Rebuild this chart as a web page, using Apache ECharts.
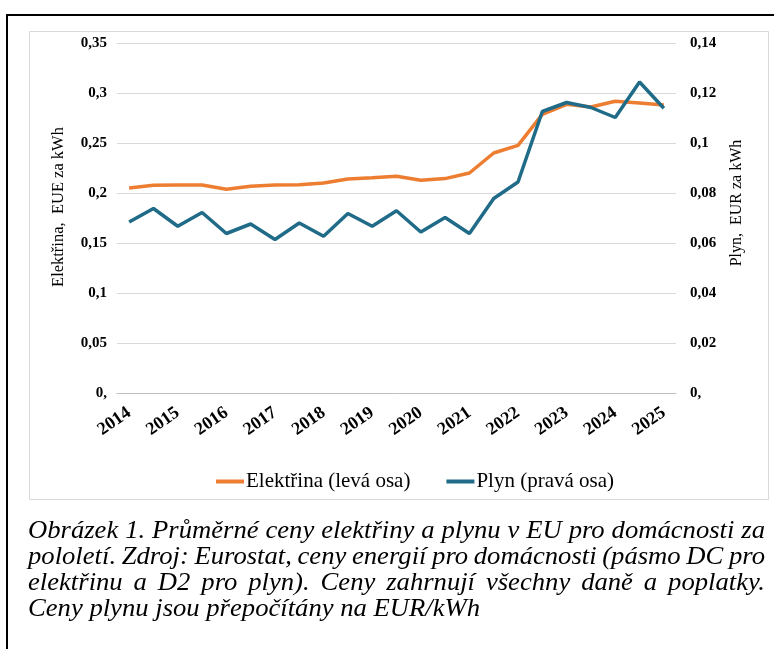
<!DOCTYPE html>
<html>
<head>
<meta charset="utf-8">
<script src="https://cdn.jsdelivr.net/npm/echarts@6/dist/echarts.min.js"></script>
<style>
  html, body { margin: 0; padding: 0; background: #fff; }
  #main { width: 774px; height: 649px; }
</style>
</head>
<body>
<div id="main"></div>
<script>
// pololetí 2014 S1 ... 2025 S1
var periods = ['2014-S1', '2014-S2', '2015-S1', '2015-S2', '2016-S1', '2016-S2', '2017-S1', '2017-S2',
    '2018-S1', '2018-S2', '2019-S1', '2019-S2', '2020-S1', '2020-S2', '2021-S1', '2021-S2',
    '2022-S1', '2022-S2', '2023-S1', '2023-S2', '2024-S1', '2024-S2', '2025-S1'];
// elektřina, EUR/kWh (levá osa)
var elektrina = [0.205, 0.2077, 0.208, 0.208, 0.2037, 0.2067, 0.208, 0.2083, 0.210, 0.214, 0.2153, 0.2167,
    0.2127, 0.2144, 0.220, 0.240, 0.2477, 0.2787, 0.2887, 0.286, 0.2917, 0.290, 0.288];
// plyn, EUR/kWh (pravá osa)
var plyn = [0.0684, 0.0738, 0.0667, 0.0722, 0.0638, 0.0676, 0.0614, 0.068, 0.0627, 0.0718, 0.0667, 0.0729,
    0.0644, 0.0702, 0.0638, 0.0778, 0.0844, 0.1126, 0.1162, 0.1142, 0.1102, 0.1244, 0.1139];

var captionLines = [
    'Obrázek 1. Průměrné ceny elektřiny a plynu v EU pro domácnosti za',
    'pololetí. Zdroj: Eurostat, ceny energií pro domácnosti (pásmo DC pro',
    'elektřinu a D2 pro plyn). Ceny zahrnují všechny daně a poplatky.',
    'Ceny plynu jsou přepočítány na EUR/kWh'
];

var serif = '"Liberation Serif", "Times New Roman", serif';
var myChart = echarts.init(document.getElementById('main'));

function fmtNum(v) {
    if (v === 0) return '0,';
    return String(+v.toFixed(2)).replace('.', ',');
}

// popisek pod grafem, zarovnaný do bloku
var capFont = 'italic 25px ' + serif;
var ctx = document.createElement('canvas').getContext('2d');
ctx.font = capFont;
var capLeft = 28, capRight = 765;
var sx = 452 / ctx.measureText(captionLines[3]).width;
var graphics = [];
captionLines.forEach(function (line, li) {
    var y = 531 + li * 26.3;
    var words = line.split(' ');
    var last = li === captionLines.length - 1;
    var widths = words.map(function (w) { return ctx.measureText(w).width * sx; });
    var total = widths.reduce(function (a, b) { return a + b; }, 0);
    var gap = last ? ctx.measureText(' ').width * sx : (capRight - capLeft - total) / (words.length - 1);
    var x = capLeft;
    words.forEach(function (w, i) {
        graphics.push({
            type: 'text', x: x, y: y, scaleX: sx,
            style: { text: w, font: capFont, fill: '#000', align: 'left', verticalAlign: 'middle' }
        });
        x += widths[i] + gap;
    });
});

graphics.push({
    type: 'polyline',
    shape: { points: [[774, 15], [7, 15], [7, 649]] },
    style: { stroke: '#000', lineWidth: 2, fill: null }
});
graphics.push({
    type: 'rect',
    shape: { x: 29.5, y: 31.5, width: 739, height: 468 },
    style: { stroke: '#d9d9d9', lineWidth: 1, fill: null }
});
graphics.push({
    type: 'text', x: 59, y: 207, rotation: Math.PI / 2,
    style: { text: 'Elektřina,  EUE za kWh', font: '16.5px ' + serif, fill: '#000', align: 'center', verticalAlign: 'middle' }
});
graphics.push({
    type: 'text', x: 737, y: 203, rotation: Math.PI / 2,
    style: { text: 'Plyn,  EUR za kWh', font: '16px ' + serif, fill: '#000', align: 'center', verticalAlign: 'middle' }
});

var option = {
    backgroundColor: '#fff',
    animation: false,
    grid: { left: 117, right: 98, top: 43, height: 350 },
    legend: {
        left: 216, top: 471, padding: 0,
        icon: 'rect', itemWidth: 28, itemHeight: 4, itemGap: 36,
        textStyle: { fontFamily: serif, fontSize: 21, color: '#000', padding: [0, 0, 0, -3] },
        data: ['Elektřina (levá osa)', 'Plyn (pravá osa)']
    },
    xAxis: {
        type: 'category',
        data: periods,
        boundaryGap: true,
        axisLine: { lineStyle: { color: '#bfbfbf', width: 1 } },
        axisTick: { interval: 0, length: 5, lineStyle: { color: '#bfbfbf' } },
        axisLabel: {
            interval: 1, rotate: 35, margin: 18,
            fontFamily: serif, fontWeight: 'bold', fontSize: 18, color: '#000',
            formatter: function (v) { return v.slice(0, 4); }
        }
    },
    yAxis: [{
        type: 'value', min: 0, max: 0.35, interval: 0.05,
        axisLine: { show: false }, axisTick: { show: false },
        splitLine: { lineStyle: { color: '#d9d9d9', width: 1 } },
        axisLabel: { fontFamily: serif, fontWeight: 'bold', fontSize: 15, color: '#000', margin: 10, formatter: fmtNum }
    }, {
        type: 'value', min: 0, max: 0.14, interval: 0.02,
        axisLine: { show: false }, axisTick: { show: false },
        splitLine: { show: false },
        axisLabel: { fontFamily: serif, fontWeight: 'bold', fontSize: 15, color: '#000', margin: 14, formatter: fmtNum }
    }],
    series: [{
        name: 'Elektřina (levá osa)',
        type: 'line', yAxisIndex: 0,
        data: elektrina,
        showSymbol: false,
        lineStyle: { color: '#ed7d31', width: 3.5 },
        itemStyle: { color: '#ed7d31' }
    }, {
        name: 'Plyn (pravá osa)',
        type: 'line', yAxisIndex: 1,
        data: plyn,
        showSymbol: false,
        lineStyle: { color: '#1f6b88', width: 3.5 },
        itemStyle: { color: '#1f6b88' }
    }],
    graphic: graphics
};
myChart.setOption(option);
</script>
</body>
</html>
